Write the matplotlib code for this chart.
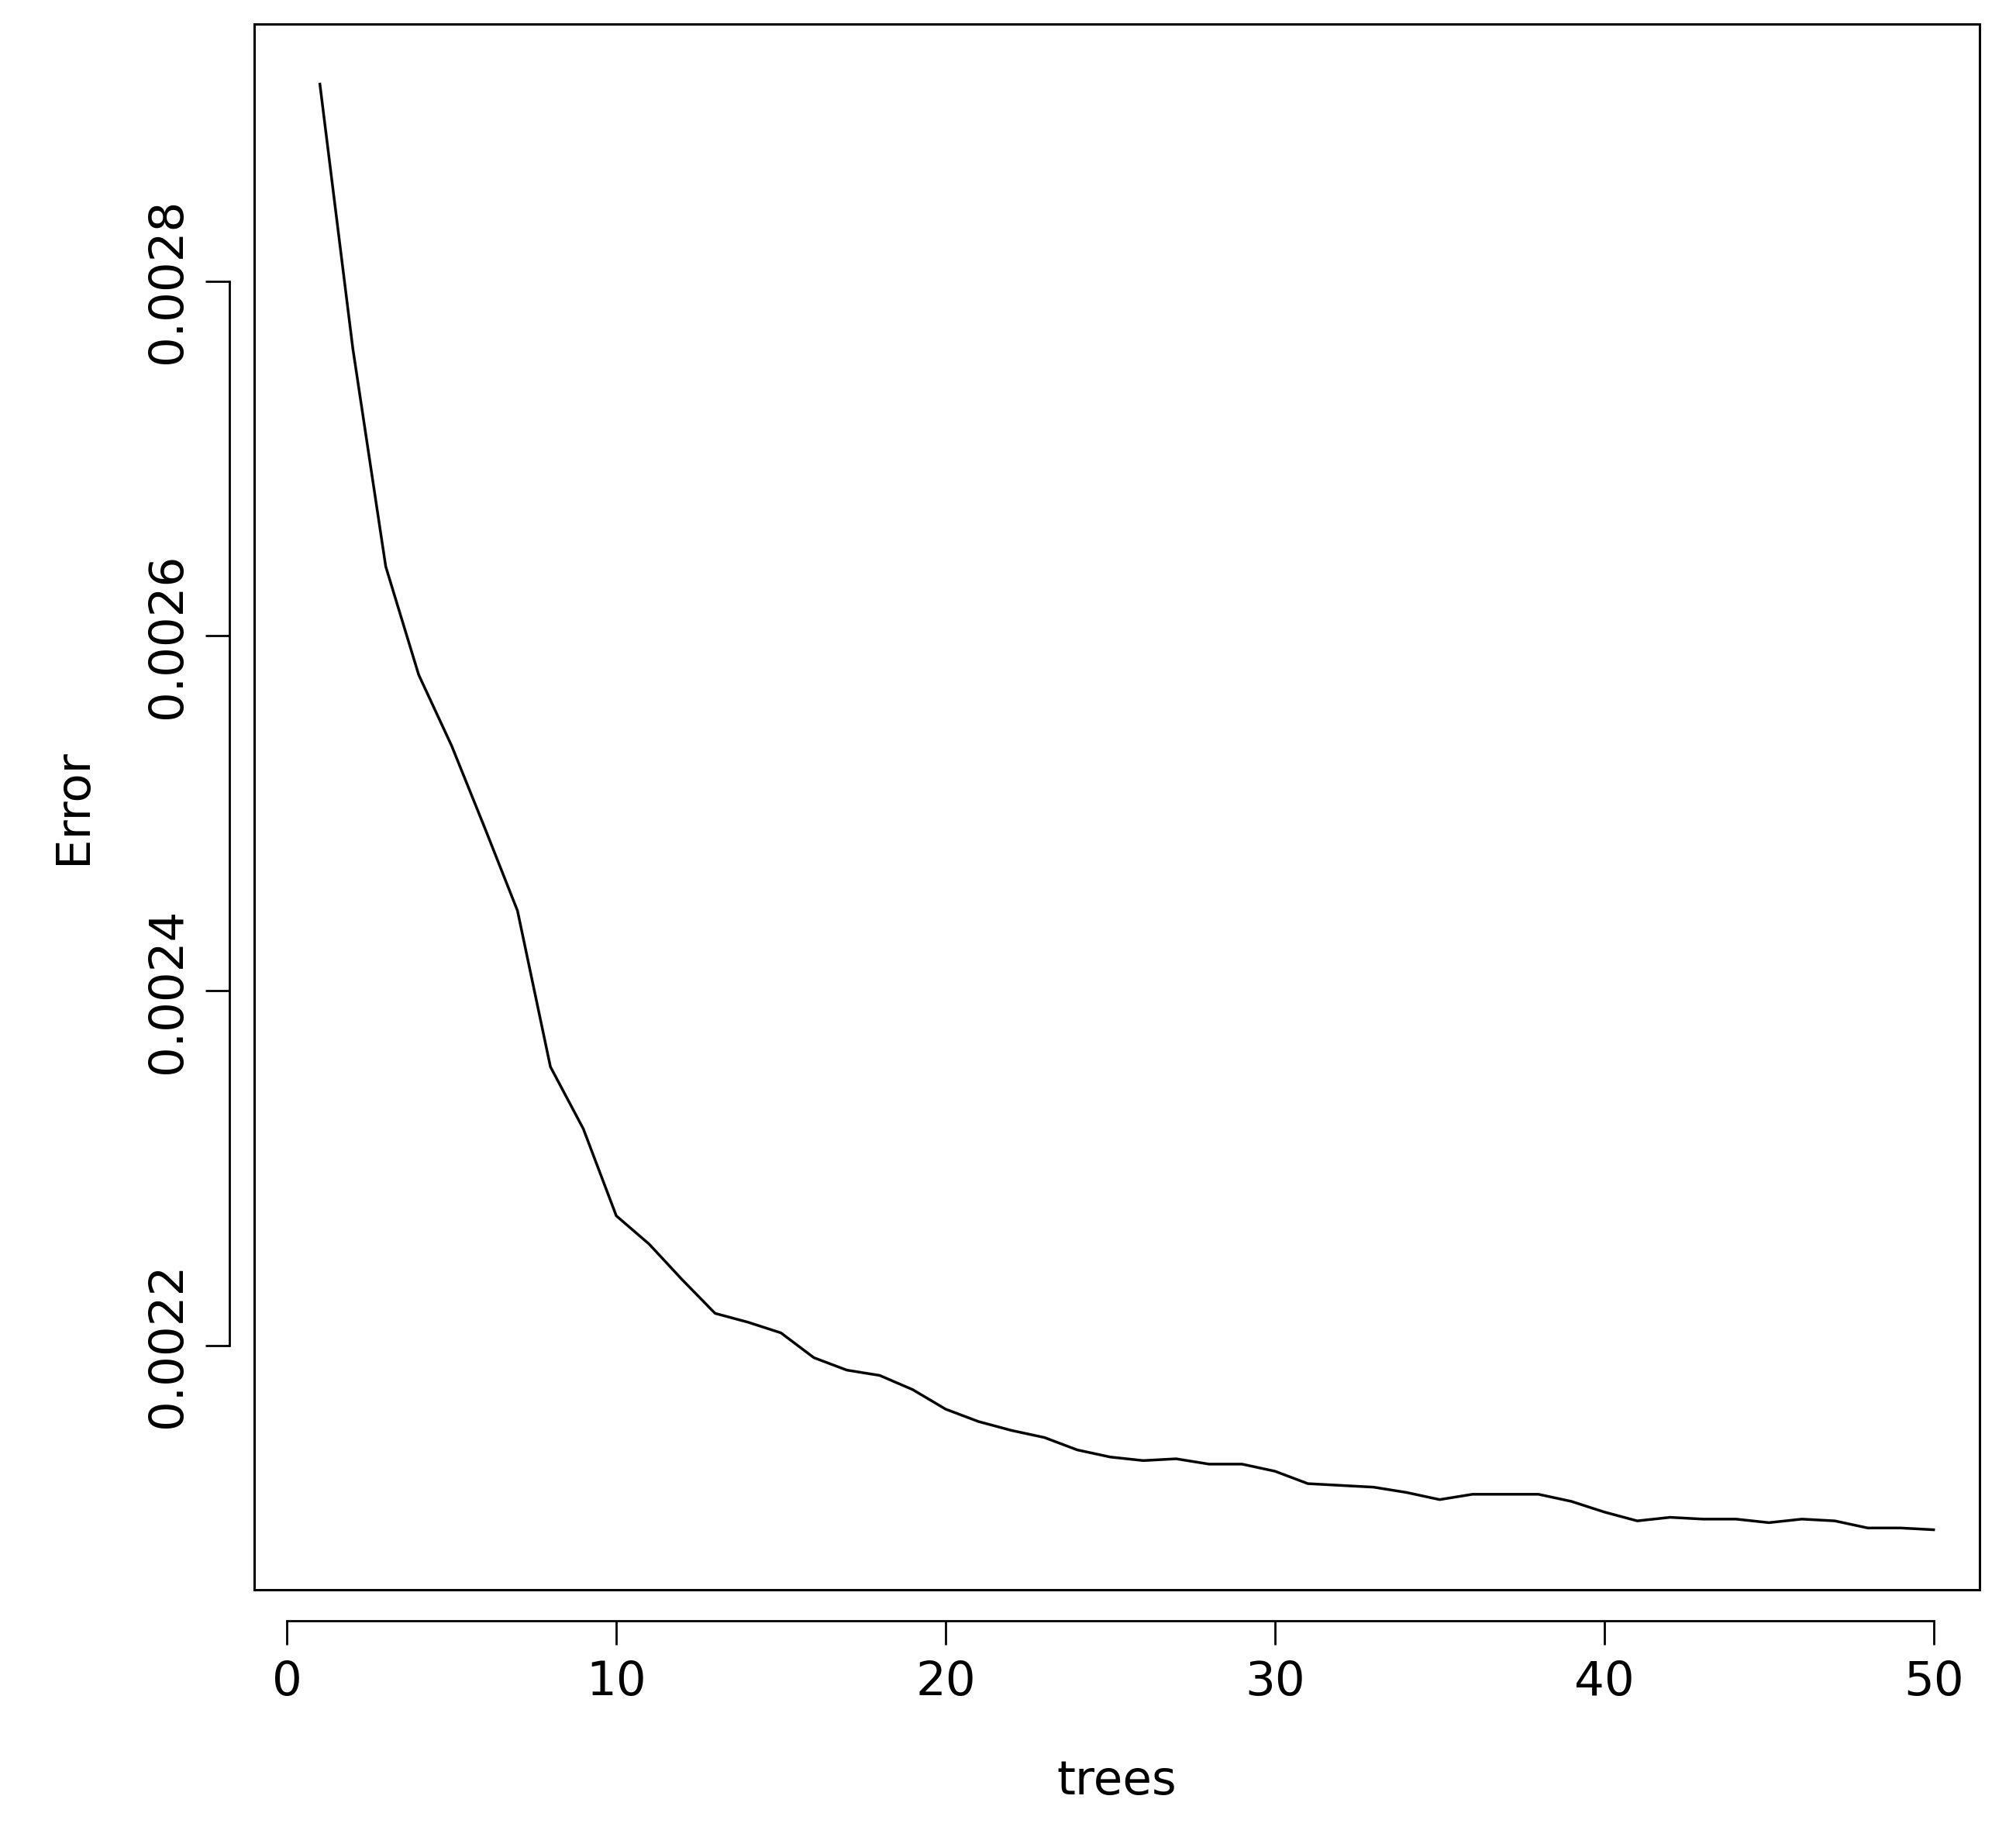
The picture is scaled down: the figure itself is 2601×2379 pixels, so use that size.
import matplotlib.pyplot as plt
from matplotlib.patches import Rectangle

trees = list(range(1, 51))
error = [
    0.002911, 0.002762, 0.002639, 0.002578, 0.002538, 0.002492, 0.002445, 0.002357, 0.002322, 0.002273,
    0.002257, 0.002237, 0.002218, 0.002213, 0.002207, 0.002193, 0.002186, 0.002183, 0.002175, 0.002164,
    0.002157, 0.002152, 0.002148, 0.002141, 0.002137, 0.002135, 0.002136, 0.002133, 0.002133, 0.002129,
    0.002122, 0.002121, 0.002120, 0.002117, 0.002113, 0.002116, 0.002116, 0.002116, 0.002112, 0.002106,
    0.002101, 0.002103, 0.002102, 0.002102, 0.002100, 0.002102, 0.002101, 0.002097, 0.002097, 0.002096,
]
xticks = [0, 10, 20, 30, 40, 50]
yticks = [0.0022, 0.0024, 0.0026, 0.0028]
ytick_labels = ["0.0022", "0.0024", "0.0026", "0.0028"]

fig = plt.figure(figsize=(26.01, 23.79), dpi=100)
ax = fig.add_axes([0.126, 0.138, 0.856, 0.849])

ax.plot(trees, error, color="black", linewidth=2.5)
ax.set_xlim(-1.0, 51.4)
ax.set_ylim(0.0020623, 0.0029449)

# R-style detached axes plus a surrounding box
for side in ["top", "right"]:
    ax.spines[side].set_visible(False)
ax.spines["bottom"].set_position(("outward", 29))
ax.spines["left"].set_position(("outward", 23))
ax.spines["bottom"].set_bounds(0, 50)
ax.spines["left"].set_bounds(0.0022, 0.0028)
for side in ["bottom", "left"]:
    ax.spines[side].set_linewidth(2)
ax.add_patch(Rectangle((0, 0), 1, 1, transform=ax.transAxes, fill=False,
                       edgecolor="black", linewidth=2.2, clip_on=False))

ax.set_xticks(xticks)
ax.set_xticklabels([str(t) for t in xticks])
ax.set_yticks(yticks)
ax.set_yticklabels(ytick_labels, rotation=90, va="center")
ax.tick_params(axis="both", direction="out", length=22, width=2, labelsize=44, pad=14)

ax.set_xlabel("trees", fontsize=44, labelpad=50)
ax.set_ylabel("Error", fontsize=44, labelpad=45)

fig.savefig("out.png", dpi=100)
